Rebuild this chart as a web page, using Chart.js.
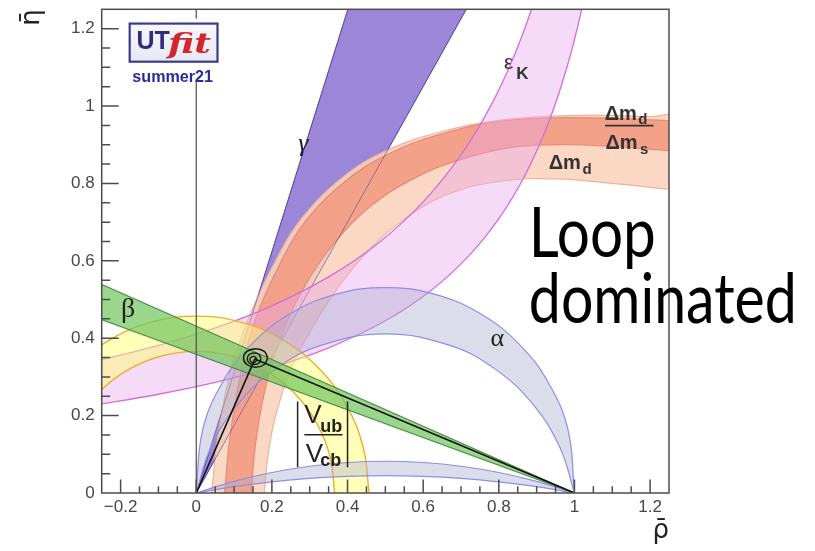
<!DOCTYPE html>
<html>
<head>
<meta charset="utf-8">
<title>UTfit unitarity triangle</title>
<style>
  html, body { margin: 0; padding: 0; background: #ffffff; }
  canvas { display: block; }
</style>
<script src="https://cdn.jsdelivr.net/npm/chart.js@4.4.0/dist/chart.umd.min.js"></script>
</head>
<body>
<canvas id="ut" width="815" height="551"></canvas>
<script>
// ---- axes ----
const rhoRange = [-0.25, 1.25];
const etaRange = [0, 1.25];
const rhoTicks = [-0.2, 0, 0.2, 0.4, 0.6, 0.8, 1, 1.2];
const etaTicks = [0, 0.2, 0.4, 0.6, 0.8, 1, 1.2];

// ---- constraint bands, [rho, eta] boundary points ----
// gamma: wedge from the origin
const gammaWedge = [[0, 0], [0.433, 1.35], [0.771, 1.35], [0, 0]];
const gammaEdgeLow = [[0, 0], [0.401, 1.25]];
const gammaEdgeHigh = [[0, 0], [0.714, 1.25]];

// Delta m_d (wide, light)
const dmdOuter = [[0.036, -0.02], [0.040, 0], [0.058, 0.15], [0.092, 0.32], [0.142, 0.46], [0.207, 0.595],
  [0.275, 0.705], [0.39, 0.818], [0.51, 0.888], [0.645, 0.933], [0.80, 0.963], [1.0, 0.976], [1.20, 0.973], [1.30, 0.97]];
const dmdInner = [[1.30, 0.78], [1.25, 0.785], [1.10, 0.80], [0.95, 0.812], [0.80, 0.805], [0.66, 0.77],
  [0.54, 0.70], [0.44, 0.61], [0.36, 0.51], [0.30, 0.415], [0.25, 0.32], [0.21, 0.20], [0.19, 0.10], [0.18, 0], [0.179, -0.02]];

// Delta m_d / Delta m_s
const dmsOuter = [[0.074, -0.02], [0.075, 0], [0.09, 0.15], [0.12, 0.32], [0.159, 0.456], [0.22, 0.59],
  [0.286, 0.699], [0.40, 0.81], [0.52, 0.882], [0.65, 0.928], [0.80, 0.96], [1.0, 0.97], [1.25, 0.962], [1.30, 0.958]];
const dmsInner = [[1.30, 0.88], [1.25, 0.885], [1.0, 0.90], [0.85, 0.895], [0.72, 0.868], [0.58, 0.815],
  [0.46, 0.74], [0.36, 0.64], [0.29, 0.54], [0.23, 0.42], [0.19, 0.30], [0.16, 0.15], [0.145, 0], [0.144, -0.02]];

// epsilon_K hyperbolic band
const epsUpper = [[-0.30, 0.3344], [-0.25, 0.345], [-0.10, 0.3815], [0.05, 0.4265], [0.20, 0.4837], [0.35, 0.5585],
  [0.48, 0.6449], [0.60, 0.7524], [0.70, 0.8737], [0.78, 1.0031], [0.84, 1.1285], [0.89, 1.2598], [0.92, 1.3543]];
const epsLower = [[1.05, 1.3996], [1.02, 1.2531], [0.98, 1.0995], [0.93, 0.9535], [0.87, 0.8225], [0.80, 0.7088],
  [0.72, 0.6121], [0.62, 0.5229], [0.50, 0.4451], [0.35, 0.3753], [0.20, 0.3244], [0.05, 0.2857], [-0.10, 0.2552],
  [-0.25, 0.2306], [-0.30, 0.2235]];

// |Vub/Vcb| ring around the origin
const vubOuter = [[0.457, 0], [0.4414, 0.1183], [0.3958, 0.2285], [0.3232, 0.3232], [0.2285, 0.3958], [0.1183, 0.4414],
  [0, 0.457], [-0.1183, 0.4414], [-0.2285, 0.3958], [-0.3232, 0.3232], [-0.3958, 0.2285], [-0.4414, 0.1183], [-0.457, 0]];
const vubInner = [[-0.366, 0], [-0.3535, 0.0947], [-0.317, 0.183], [-0.2588, 0.2588], [-0.183, 0.317], [-0.0947, 0.3535],
  [0, 0.366], [0.0947, 0.3535], [0.183, 0.317], [0.2588, 0.2588], [0.317, 0.183], [0.3535, 0.0947], [0.366, 0]];

// alpha: upper arcs through (0,0) and (1,0)
const alphaOuter = [[0, 0], [0.0162, 0.1596], [0.0662, 0.2805], [0.1458, 0.3842], [0.2495, 0.4638], [0.3704, 0.5138],
  [0.5, 0.5309], [0.6296, 0.5138], [0.7505, 0.4638], [0.8542, 0.3842], [0.9338, 0.2805], [0.9838, 0.1596], [1, 0]];
const alphaInner = [[1, 0], [0.9619, 0.1167], [0.8904, 0.2289], [0.7924, 0.3188], [0.6743, 0.3803], [0.5, 0.411],
  [0.3257, 0.3803], [0.2076, 0.3188], [0.1096, 0.2289], [0.0381, 0.1167], [0, 0]];
// alpha: lower (shallow) solution
const alphaLowOuter = [[0, 0], [0.1, 0.030], [0.2, 0.053], [0.3, 0.0692], [0.4, 0.0788], [0.5, 0.082],
  [0.6, 0.0788], [0.7, 0.0692], [0.8, 0.053], [0.9, 0.030], [1, 0]];
const alphaLowInner = [[1, 0], [0.9, 0.0163], [0.8, 0.0289], [0.7, 0.0379], [0.6, 0.0432], [0.5, 0.045],
  [0.4, 0.0432], [0.3, 0.0379], [0.2, 0.0289], [0.1, 0.0163], [0, 0]];

// sin 2beta: wedge from (1,0)
const betaWedge = [[1, 0], [-0.30, 0.5606], [-0.30, 0.4659], [1, 0]];

// fitted apex and its probability contours
const triangle = [[0, 0], [0.155, 0.346], [1, 0]];
const contour95 = [[0.189, 0.349], [0.180, 0.366], [0.157, 0.373], [0.134, 0.366], [0.125, 0.349], [0.134, 0.332],
  [0.157, 0.325], [0.180, 0.332], [0.189, 0.349]];
const contour68 = [[0.171, 0.347], [0.166, 0.358], [0.153, 0.362], [0.140, 0.358], [0.135, 0.347], [0.140, 0.336],
  [0.153, 0.332], [0.166, 0.336], [0.171, 0.347]];
const contourCore = [[0.160, 0.345], [0.157, 0.351], [0.151, 0.353], [0.145, 0.351], [0.142, 0.345], [0.145, 0.339],
  [0.151, 0.337], [0.157, 0.339], [0.160, 0.345]];
const rhoZeroLine = [[0, 0], [0, 1.25]];

// ---- helpers ----
const toXY = pts => pts.map(p => ({ x: p[0], y: p[1] }));
function area(label, pts, fillColor, edgeColor, order, extra) {
  return Object.assign({
    label, data: toXY(pts), order,
    backgroundColor: fillColor, borderColor: edgeColor, borderWidth: 1.2,
    fill: 'shape', tension: 0.4, pointRadius: 0, clip: 0
  }, extra || {});
}
function stroke(label, pts, color, width, order, extra) {
  return Object.assign({
    label, data: toXY(pts), order,
    borderColor: color, borderWidth: width, backgroundColor: 'transparent',
    fill: false, tension: 0, pointRadius: 0, clip: 0
  }, extra || {});
}
const fmtTick = v => (v < 0 ? '\u2212' : '') + String(Math.abs(Math.round(v * 10) / 10));

// horizontally fitted text
function fitText(ctx, s, x, y, w) {
  const m = ctx.measureText(s).width;
  ctx.save();
  ctx.translate(x, y);
  ctx.scale(w / m, 1);
  ctx.fillText(s, 0, 0);
  ctx.restore();
}

// ---- frame, inner ticks, labels, logo ----
const overlay = {
  id: 'overlay',
  afterDatasetsDraw(chart) {
    const { ctx, chartArea: a } = chart;
    const X = v => chart.scales.x.getPixelForValue(v);
    const Y = v => chart.scales.y.getPixelForValue(v);
    ctx.save();

    // frame
    ctx.strokeStyle = '#4d4d4d';
    ctx.lineWidth = 1.5;
    ctx.strokeRect(a.left, a.top, a.right - a.left, a.bottom - a.top);

    // inner ticks, majors on the labelled values, minors every 0.05
    ctx.beginPath();
    for (let k = -4; k <= 24; k++) {
      const v = k * 0.05;
      const major = rhoTicks.some(t => Math.abs(t - v) < 1e-6);
      const px = X(v);
      ctx.moveTo(px, a.bottom);
      ctx.lineTo(px, a.bottom - (major ? 13.5 : 6.7));
    }
    for (let k = 1; k <= 24; k++) {
      const v = k * 0.05;
      const major = etaTicks.some(t => Math.abs(t - v) < 1e-6);
      const py = Y(v);
      ctx.moveTo(a.left, py);
      ctx.lineTo(a.left + (major ? 17 : 8.5), py);
    }
    ctx.stroke();

    // band labels
    ctx.textAlign = 'left';
    ctx.textBaseline = 'alphabetic';
    ctx.fillStyle = '#1c1c3c';
    ctx.font = 'italic 26px "Liberation Serif"';
    ctx.fillText('\u03B3', X(0.27), Y(0.884));
    ctx.fillStyle = '#222';
    ctx.font = '26px "Liberation Serif"';
    ctx.fillText('\u03B1', X(0.778), Y(0.379));
    ctx.font = '28px "Liberation Serif"';
    ctx.fillText('\u03B2', X(-0.199), Y(0.456));

    ctx.fillStyle = '#333';
    ctx.font = '21px "Liberation Sans"';
    ctx.fillText('\u03B5', X(0.8135), Y(1.0946));
    ctx.font = 'bold 17px "Liberation Sans"';
    ctx.fillText('K', X(0.846), Y(1.0687));

    // Delta m_d / Delta m_s fraction
    ctx.font = 'bold 20px "Liberation Sans"';
    ctx.fillText('\u0394m', X(1.08), Y(0.965));
    ctx.fillText('\u0394m', X(1.082), Y(0.889));
    ctx.font = 'bold 15px "Liberation Sans"';
    ctx.fillText('d', X(1.169), Y(0.953));
    ctx.fillText('s', X(1.173), Y(0.876));
    ctx.strokeStyle = '#333';
    ctx.lineWidth = 1.6;
    ctx.beginPath();
    ctx.moveTo(X(1.081), Y(0.9495));
    ctx.lineTo(X(1.209), Y(0.9495));
    ctx.stroke();
    // Delta m_d
    ctx.font = 'bold 20px "Liberation Sans"';
    ctx.fillText('\u0394m', X(0.932), Y(0.837));
    ctx.font = 'bold 15px "Liberation Sans"';
    ctx.fillText('d', X(1.021), Y(0.824));

    // |Vub / Vcb|
    ctx.fillStyle = '#222';
    ctx.font = '26px "Liberation Sans"';
    ctx.fillText('V', X(0.2858), Y(0.1814));
    ctx.fillText('V', X(0.2898), Y(0.0811));
    ctx.font = 'bold 18px "Liberation Sans"';
    ctx.fillText('ub', X(0.328), Y(0.1566));
    ctx.fillText('cb', X(0.328), Y(0.070));
    ctx.strokeStyle = '#222';
    ctx.lineWidth = 1.5;
    ctx.beginPath();
    ctx.moveTo(X(0.2858), Y(0.1503)); ctx.lineTo(X(0.387), Y(0.1503));
    ctx.moveTo(X(0.268), Y(0.2367)); ctx.lineTo(X(0.268), Y(0.0666));
    ctx.moveTo(X(0.400), Y(0.2367)); ctx.lineTo(X(0.400), Y(0.0666));
    ctx.stroke();

    // UTfit logo (opaque block)
    const lx0 = X(-0.176), lx1 = X(0.0562), ly0 = Y(1.2131), ly1 = Y(1.1146);
    ctx.fillStyle = '#ffffff';
    ctx.fillRect(lx0 - 2, Y(1.226), lx1 - lx0 + 4, Y(1.07) - Y(1.226));
    const g = ctx.createLinearGradient(0, ly0, 0, ly1);
    g.addColorStop(0, '#f7f7fc');
    g.addColorStop(1, '#e6e8f5');
    ctx.fillStyle = g;
    ctx.fillRect(lx0, ly0, lx1 - lx0, ly1 - ly0);
    ctx.strokeStyle = '#3b3b8c';
    ctx.lineWidth = 2.2;
    ctx.strokeRect(lx0, ly0, lx1 - lx0, ly1 - ly0);
    ctx.fillStyle = '#2d2d7e';
    ctx.font = 'bold 25px "Liberation Sans"';
    ctx.fillText('UT', X(-0.158), Y(1.148));
    ctx.fillStyle = '#d2262c';
    ctx.font = 'italic bold 28px "DejaVu Serif"';
    fitText(ctx, 'fit', X(-0.075), Y(1.136), 43);
    ctx.fillStyle = '#2a2a9c';
    ctx.font = 'bold 16px "Liberation Sans"';
    fitText(ctx, 'summer21', X(-0.1689), Y(1.0627), 80.6);

    // overlay caption
    ctx.fillStyle = '#000';
    ctx.font = '400 70px Lato';
    fitText(ctx, 'Loop', X(0.8794), Y(0.6091), 127);
    fitText(ctx, 'dominated', X(0.8794), Y(0.4406), 268);

    ctx.restore();
  }
};

const datasets = [
  area('gamma', gammaWedge, '#9b86d8', '#6f58b4', 100, { tension: 0, borderWidth: 1 }),
  area('dmd', dmdOuter.concat(dmdInner), 'rgba(250,212,188,0.90)', '#efb39c', 90),
  area('dmd/dms', dmsOuter.concat(dmsInner), 'rgba(243,152,128,0.86)', '#e58a77', 80),
  stroke('gamma edge 1', gammaEdgeLow, 'rgba(85,60,150,0.55)', 1, 75),
  stroke('gamma edge 2', gammaEdgeHigh, 'rgba(85,60,150,0.55)', 1, 74),
  area('epsK', epsUpper.concat(epsLower), 'rgba(232,165,238,0.40)', '#d36fd8', 70, { borderWidth: 1.3 }),
  area('Vub/Vcb', vubOuter.concat(vubInner), 'rgba(255,255,110,0.48)', '#efae2a', 60, { borderWidth: 1.4 }),
  area('alpha', alphaOuter.concat(alphaInner), 'rgba(172,174,208,0.42)', '#8f8fe4', 50),
  area('alpha low', alphaLowOuter.concat(alphaLowInner), 'rgba(172,174,208,0.42)', '#8f8fe4', 49),
  area('sin2beta', betaWedge, 'rgba(112,196,92,0.70)', '#4c8f47', 40, { tension: 0 }),
  stroke('triangle', triangle, '#111', 1.6, 30),
  stroke('contour 95', contour95, '#161616', 1.5, 20, { tension: 0.4 }),
  stroke('contour 68', contour68, '#161616', 1.5, 19, { tension: 0.4 }),
  stroke('contour core', contourCore, '#161616', 1.3, 18, { tension: 0.4 }),
  stroke('rho = 0', rhoZeroLine, '#4d4d4d', 1.2, 10)
];

const tickFont = { family: '"Liberation Sans", Arial, sans-serif', size: 17 };

new Chart(document.getElementById('ut'), {
  type: 'line',
  data: { datasets },
  plugins: [overlay],
  options: {
    responsive: false,
    animation: false,
    devicePixelRatio: 1,
    events: [],
    layout: { padding: { left: 0, top: 9.3, right: 146, bottom: 0 } },
    plugins: { legend: { display: false }, tooltip: { enabled: false } },
    scales: {
      x: {
        type: 'linear', min: rhoRange[0], max: rhoRange[1],
        grid: { display: false, drawTicks: false }, border: { display: false },
        afterBuildTicks: s => { s.ticks = rhoTicks.map(v => ({ value: v })); },
        afterFit: s => { s.height = 58; s.paddingLeft = 0; s.paddingRight = 0; },
        ticks: { padding: 4, font: tickFont, color: '#474747', maxRotation: 0, autoSkip: false, callback: fmtTick },
        title: { display: true, text: '\u03C1\u0304', align: 'end', color: '#222',
          font: { family: '"DejaVu Sans"', size: 26 }, padding: { top: 0, bottom: 4 } }
      },
      y: {
        type: 'linear', min: etaRange[0], max: etaRange[1],
        grid: { display: false, drawTicks: false }, border: { display: false },
        afterBuildTicks: s => { s.ticks = etaTicks.map(v => ({ value: v })); },
        afterFit: s => { s.width = 101.7; s.paddingTop = 0; s.paddingBottom = 0; },
        ticks: { padding: 7, font: tickFont, color: '#474747', autoSkip: false, callback: fmtTick },
        title: { display: true, text: '\u03B7\u0304', align: 'end', color: '#222',
          font: { family: '"DejaVu Sans"', size: 26 }, padding: { top: 17, bottom: 0 } }
      }
    }
  }
});
</script>
</body>
</html>
